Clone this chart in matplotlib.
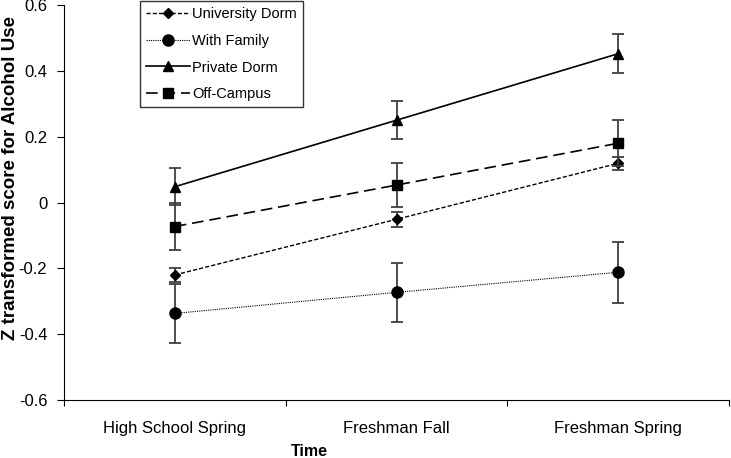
import numpy as np
import matplotlib
matplotlib.use('Agg')
import matplotlib.pyplot as plt

plt.rcParams['font.family'] = ['Liberation Sans', 'DejaVu Sans']

times = ['High School Spring', 'Freshman Fall', 'Freshman Spring']

univ_dorm = [-0.22, -0.051, 0.119]
univ_dorm_err = [0.02, 0.022, 0.02]
with_family = [-0.337, -0.273, -0.212]
with_family_err = [0.09, 0.09, 0.092]
private_dorm = [0.048, 0.25, 0.452]
private_dorm_err = [0.057, 0.058, 0.06]
off_campus = [-0.073, 0.053, 0.18]
off_campus_err = [0.07, 0.068, 0.07]


def main():
    fig = plt.figure(figsize=(7.31, 4.58), dpi=100)
    ax = fig.add_axes([64 / 731, 1 - 400 / 458, 665 / 731, 395 / 458])

    x = np.arange(len(times)) + 0.5
    series = [
        ('University Dorm', univ_dorm, univ_dorm_err, 'D', (0, (3, 1.5)), 5, 1.0),
        ('With Family', with_family, with_family_err, 'o', (0, (1, 1)), 8, 0.8),
        ('Private Dorm', private_dorm, private_dorm_err, '^', '-', 7, 1.2),
        ('Off-Campus', off_campus, off_campus_err, 's', (0, (7, 3.5)), 7, 1.2),
    ]
    for name, vals, err, mk, ls, ms, lw in series:
        ax.errorbar(x, vals, yerr=err, fmt='none', ecolor='#404040',
                    elinewidth=1.3, capsize=4, capthick=1.3)
        ax.plot(x, vals, color='black', linestyle=ls, linewidth=lw,
                marker=mk, markersize=ms, markerfacecolor='black',
                markeredgecolor='black', label=name)

    ax.set_xlim(0, 3)
    ax.set_ylim(-0.6, 0.6)
    ax.set_yticks([-0.6, -0.4, -0.2, 0, 0.2, 0.4, 0.6])
    ax.set_yticklabels(['-0.6', '-0.4', '-0.2', '0', '0.2', '0.4', '0.6'])
    ax.set_xticks([0, 1, 2, 3])
    ax.set_xticklabels([])
    ax.set_xticks(x, minor=True)
    ax.set_xticklabels(times, minor=True)
    ax.tick_params(axis='x', which='minor', length=0, pad=15, labelsize=12)
    ax.tick_params(axis='x', which='major', length=4, direction='out')
    ax.tick_params(axis='y', length=5, direction='out', labelsize=12, pad=7)

    ax.spines['top'].set_visible(False)
    ax.spines['right'].set_visible(False)

    ax.set_xlabel('Time', fontweight='bold', fontsize=11.5)
    ax.xaxis.set_label_coords(0.369, -0.112)
    ax.set_ylabel('Z transformed score for Alcohol Use', fontweight='bold',
                  fontsize=13.5)
    ax.yaxis.set_label_coords(-0.068, 0.562)

    leg = ax.legend(loc='upper left', bbox_to_anchor=(140 / 731, 1 - 1 / 458),
                    bbox_transform=fig.transFigure, borderaxespad=0,
                    fontsize=10.5, frameon=True, fancybox=False,
                    edgecolor='black', handlelength=3.0, labelspacing=0.88,
                    borderpad=0.4, handletextpad=0.2, markerscale=1.0)
    leg.get_frame().set_linewidth(1.0)

    fig.savefig('out.png', dpi=100)


if __name__ == "__main__":
    main()
